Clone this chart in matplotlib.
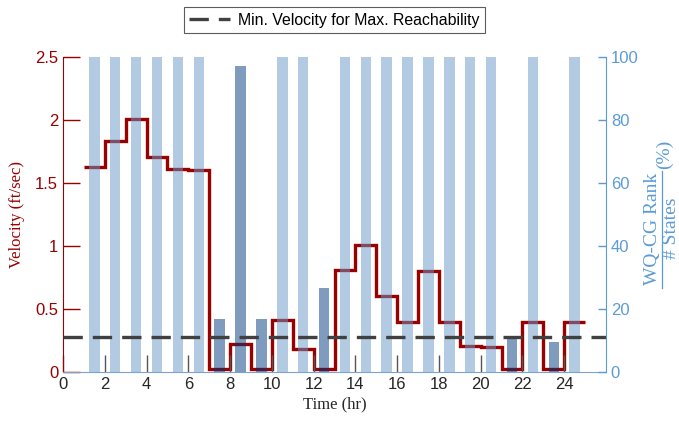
import numpy as np
import matplotlib
matplotlib.use("Agg")
import matplotlib.pyplot as plt
from matplotlib.lines import Line2D

# hourly data, hour h covers [h, h+1)
hours = np.arange(1, 25)
velocity = [1.63, 1.83, 2.01, 1.71, 1.61, 1.60, 0.02, 0.22, 0.02, 0.41, 0.18, 0.02,
            0.81, 1.01, 0.60, 0.40, 0.80, 0.40, 0.21, 0.20, 0.02, 0.40, 0.02, 0.40]
rank_pct = [100, 100, 100, 100, 100, 100, 16.7, 97, 16.7, 100, 100, 26.7,
            100, 100, 100, 100, 100, 100, 100, 100, 11, 100, 9.5, 100]
min_velocity = 0.278

xticks = list(range(0, 25, 2))
vticks = [0, 0.5, 1, 1.5, 2, 2.5]
vticklabels = ["0", "0.5", "1", "1.5", "2", "2.5"]
rticks = [0, 20, 40, 60, 80, 100]

red = "#990000"
blue = "#5b9bd5"
light_bar = "#6699c7"
dark_bar = "#00387f"

plt.rcParams["font.family"] = ["Liberation Sans", "DejaVu Sans"]

W, H = 679, 424
fig = plt.figure(figsize=(W / 100, H / 100), dpi=100)
ax = fig.add_axes([0.0928, 0.1226, 0.7997, 0.743])
ax2 = ax.twinx()

# velocity steps (under the bars)
ax.stairs(velocity, edges=np.append(hours, hours[-1] + 1), baseline=None,
          color=red, linewidth=2.4)
ax.set_xlim(0, 26)
ax.set_ylim(0, 2.5)
ax.set_yticks(vticks)
ax.set_yticklabels(vticklabels)
ax.set_xticks(xticks)
ax.tick_params(axis="y", colors=red, direction="in", length=12, width=1, labelsize=12)
ax.tick_params(axis="x", colors="#555555", labelcolor="#262626", direction="in",
               length=12, width=1, labelsize=12)
ax.set_ylabel("Velocity (ft/sec)", color=red, family="Liberation Serif", fontsize=12,
              labelpad=7)
ax.set_xlabel("Time (hr)", color="#262626", family="Liberation Serif", fontsize=12,
              labelpad=3)
for s in ["top", "right"]:
    ax.spines[s].set_visible(False)
ax.spines["left"].set_color(red)
ax.spines["bottom"].set_color("#7ba3d0")

# rank bars (semi transparent, over the velocity)
bar_colors = [light_bar if r >= 100 else dark_bar for r in rank_pct]
ax2.bar(hours + 0.5, rank_pct, width=0.5, color=bar_colors, alpha=0.5, linewidth=0)
line, = ax2.plot([0, 26], [min_velocity, min_velocity], transform=ax.transData,
                 color="#404040", linewidth=2.4, linestyle=(0, (5.8, 3.0)), zorder=5,
                 label="Min. Velocity for Max. Reachability")
ax2.set_xlim(0, 26)
ax2.set_ylim(0, 100)
ax2.set_yticks(rticks)
ax2.tick_params(axis="y", colors=blue, direction="in", length=6, width=1, labelsize=12)
for s in ["top", "left", "bottom"]:
    ax2.spines[s].set_visible(False)
ax2.spines["right"].set_color(blue)

# right label drawn as a stacked fraction: WQ-CG Rank / # States (%)
lab = dict(color=blue, family="Liberation Serif", fontsize=14, rotation=90,
           ha="center", va="center")
fig.text(652 / W, 1 - 229 / H, "WQ-CG Rank", **lab)
fig.text(671 / W, 1 - 228 / H, "# States", **lab)
fig.text(664 / W, 1 - 154 / H, "(%)", **lab)
fig.add_artist(Line2D([662 / W, 662 / W], [1 - 171 / H, 1 - 288 / H],
                      transform=fig.transFigure, color=blue, linewidth=0.9))

leg = ax2.legend(handles=[line], loc="center", bbox_to_anchor=(0.5, 1.116),
                 fontsize=11.4, frameon=True, fancybox=False, handlelength=2.6,
                 borderpad=0.35, handletextpad=0.5)
leg.get_frame().set_edgecolor("#333333")
leg.get_frame().set_linewidth(0.8)

fig.savefig("out.png", dpi=100)
